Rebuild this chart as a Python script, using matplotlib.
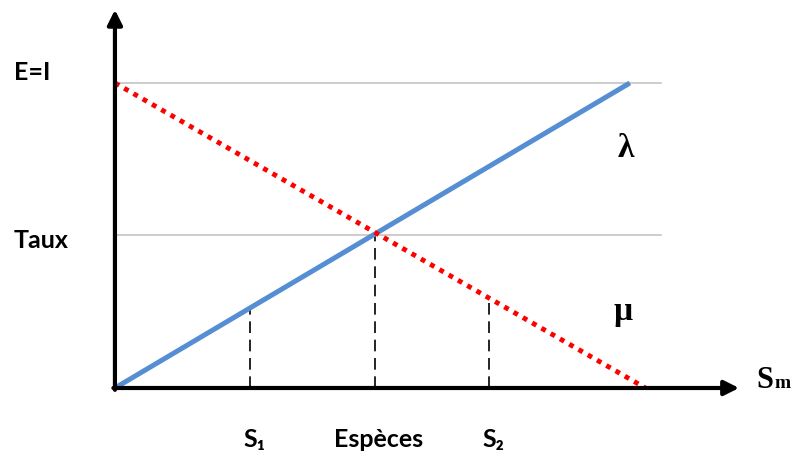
import matplotlib
matplotlib.use("Agg")
import matplotlib.pyplot as plt

# values in chart units (origin = axes corner)
lambda_x = [0.0, 1.98]
lambda_y = [0.0, 1.0]
mu_x = [0.0, 2.04]
mu_y = [1.0, 0.0]
level_y = [1.0, 0.5]          # E=I, Taux
level_labels = ["E=I", "Taux"]
level_end = 2.1
s_x = [0.52, 1.0, 1.44]       # S1, Especes, S2
s_top = [0.26, 0.5, 0.294]
s_labels = ["S\u2081", "Espèces", "S\u2082"]

fig = plt.figure(figsize=(7.95, 4.58), dpi=100)
ax = fig.add_axes([0, 0, 1, 1])
ax.set_xlim(-0.442, 2.615)
ax.set_ylim(-0.2295, 1.272)
ax.axis("off")

sans = ["Lato", "DejaVu Sans"]
serif = ["Liberation Serif", "DejaVu Serif"]

# horizontal reference lines
for y in level_y:
    ax.plot([0, level_end], [y, y], color="#BFBFBF", lw=1.1, zorder=1)

# dashed verticals
for x, top in zip(s_x, s_top):
    ax.plot([x, x], [0, top], color="black", lw=1.2, dashes=(7, 4), zorder=2)

# lambda (blue) and mu (red dotted)
ax.plot(lambda_x, lambda_y, color="#568ED4", lw=3.6, solid_capstyle="butt", zorder=3)
ax.plot(mu_x, mu_y, color="#FF0000", lw=3.5, dashes=(1, 1.2),
        dash_capstyle="butt", zorder=4)

# axes with arrows
arrow = dict(arrowstyle="-|>", lw=3, color="black", mutation_scale=22,
             shrinkA=0, shrinkB=0)
ax.annotate("", xy=(2.40, 0), xytext=(-0.006, 0), arrowprops=arrow, zorder=5)
ax.annotate("", xy=(0, 1.24), xytext=(0, -0.006), arrowprops=arrow, zorder=5)

# labels
ax.text(-0.388, 1.035, level_labels[0], family=sans, weight="bold", fontsize=18,
        ha="left", va="center")
ax.text(-0.39, 0.485, level_labels[1], family=sans, weight="bold", fontsize=18,
        ha="left", va="center")
for x, lab in zip(s_x, s_labels):
    ax.text(x + 0.015, -0.17, lab, family=sans, weight="bold", fontsize=18,
            ha="center", va="center")

ax.text(1.965, 0.785, "λ", family=serif, weight="bold", fontsize=24,
        ha="center", va="center")
ax.text(1.955, 0.25, "μ", family=serif, weight="bold", fontsize=24,
        ha="center", va="center")
ax.text(2.468, 0.0, "S", family=serif, weight="bold", fontsize=22,
        ha="left", va="baseline")
ax.text(2.537, 0.0, "m", family=serif, weight="bold", fontsize=14,
        ha="left", va="baseline")

fig.savefig("out.png", dpi=100)
